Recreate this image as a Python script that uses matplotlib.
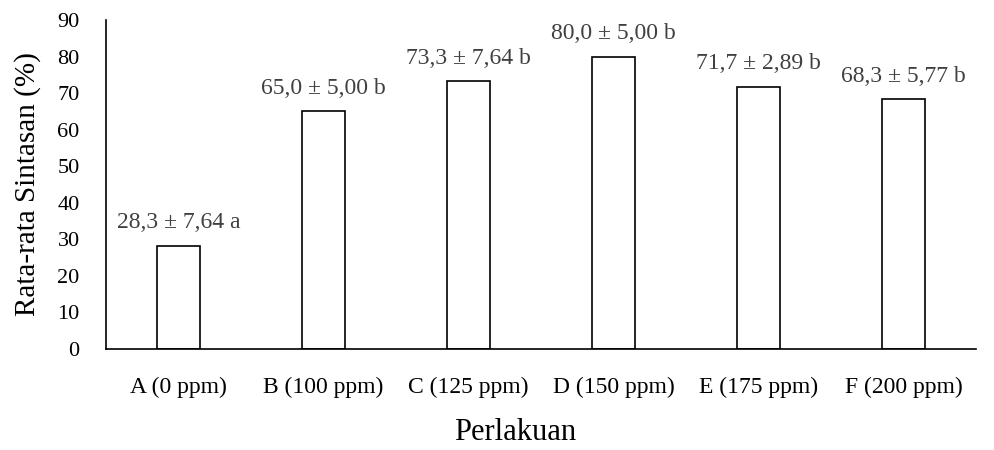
import matplotlib.pyplot as plt
import numpy as np

plt.rcParams['font.family'] = ['Liberation Serif', 'DejaVu Serif']

perlakuan = ['A (0 ppm)', 'B (100 ppm)', 'C (125 ppm)', 'D (150 ppm)', 'E (175 ppm)', 'F (200 ppm)']
rata = [28.3, 65.0, 73.3, 80.0, 71.7, 68.3]
sd = [7.64, 5.00, 7.64, 5.00, 2.89, 5.77]
notasi = ['a', 'b', 'b', 'b', 'b', 'b']

fig = plt.figure(figsize=(9.95, 4.5), dpi=100)
ax = fig.add_axes([106 / 995, 1 - 349 / 450, 870 / 995, 329 / 450])

x = np.arange(len(perlakuan))
bars = ax.bar(x, rata, width=0.30, color='white', edgecolor='black', linewidth=1.2)

for b, m, s, n in zip(bars, rata, sd, notasi):
    teks = f'{m:.1f} ± {s:.2f} {n}'.replace('.', ',')
    ax.annotate(teks, (b.get_x() + b.get_width() / 2, b.get_height()),
                xytext=(0, 9), textcoords='offset points',
                ha='center', va='bottom', fontsize=17, color='#404040')

ax.set_xlim(-0.5, 5.5)
ax.set_ylim(0, 90)
ax.set_yticks(np.arange(0, 91, 10))
ax.set_xticks(x)
ax.set_xticklabels(perlakuan)
ax.tick_params(axis='both', length=0)
ax.tick_params(axis='x', pad=20, labelsize=17)
ax.tick_params(axis='y', pad=19, labelsize=16)
ax.spines['top'].set_visible(False)
ax.spines['right'].set_visible(False)
ax.spines['left'].set_linewidth(1.2)
ax.spines['bottom'].set_linewidth(1.2)

ax.set_ylabel('Rata-rata Sintasan (%)', fontsize=21, labelpad=12)
ax.set_xlabel('Perlakuan', fontsize=22)
ax.xaxis.set_label_coords(0.47, -0.21)

fig.savefig('out.png', dpi=100)
